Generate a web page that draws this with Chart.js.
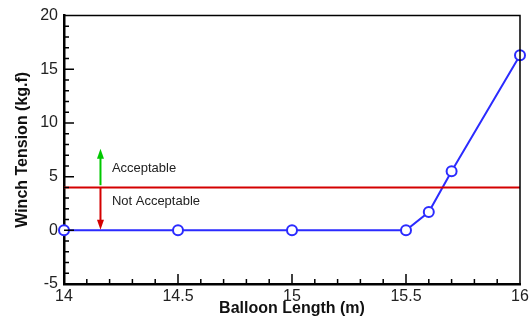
<!DOCTYPE html>
<html>
<head>
<meta charset="utf-8">
<script src="https://cdn.jsdelivr.net/npm/chart.js@4"></script>
<style>
  html, body { margin: 0; padding: 0; background: #fff; }
  canvas { display: block; }
</style>
</head>
<body>
<canvas id="chart" width="532" height="322"></canvas>
<script>
// balloon length (m) vs winch tension (kg.f)
const lengths = [14, 14.5, 15, 15.5, 15.6, 15.7, 16];
const tensions = [0, 0, 0, 0, 1.7, 5.5, 16.3];

// acceptable limit line
const limitX = [14, 16];
const limitY = [4, 4];

// annotation arrows + labels
const arrowX = 14.16;
const upArrow = [4.2, 7.6];
const downArrow = [4, 0.05];
const labelX = 14.21;
const labels = ['Acceptable', 'Not Acceptable'];
const labelY = [5.75, 2.7];

const xRange = [14, 16];
const yRange = [-5, 20];

function drawArrow(ctx, x, y1, y2, color) {
    const dir = y2 < y1 ? 1 : -1;
    ctx.save();
    ctx.strokeStyle = color;
    ctx.fillStyle = color;
    ctx.lineWidth = 2;
    ctx.beginPath();
    ctx.moveTo(x, y1);
    ctx.lineTo(x, y2 + dir * 8);
    ctx.stroke();
    ctx.beginPath();
    ctx.moveTo(x, y2);
    ctx.lineTo(x - 3.5, y2 + dir * 10);
    ctx.lineTo(x + 3.5, y2 + dir * 10);
    ctx.closePath();
    ctx.fill();
    ctx.restore();
}

const extras = {
    id: 'extras',
    afterDatasetsDraw(chart) {
        const ctx = chart.ctx;
        const xs = chart.scales.x, ys = chart.scales.y;
        const a = chart.chartArea;

        // top / right frame
        ctx.save();
        ctx.strokeStyle = '#000';
        ctx.lineWidth = 1.5;
        ctx.beginPath();
        ctx.moveTo(a.left, a.top);
        ctx.lineTo(a.right, a.top);
        ctx.lineTo(a.right, a.bottom);
        ctx.stroke();

        // inner ticks
        ctx.lineWidth = 1.5;
        ctx.beginPath();
        for (let v = yRange[0] + 1; v < yRange[1]; v++) {
            const y = ys.getPixelForValue(v);
            const len = v % 5 === 0 ? 10 : 5;
            ctx.moveTo(a.left, y);
            ctx.lineTo(a.left + len, y);
        }
        for (let i = 1; i < 20; i++) {
            const v = xRange[0] + i * 0.1;
            const x = xs.getPixelForValue(v);
            const len = i % 5 === 0 ? 10 : 5;
            ctx.moveTo(x, a.bottom);
            ctx.lineTo(x, a.bottom - len);
        }
        ctx.stroke();
        ctx.restore();

        // arrows
        const ax = xs.getPixelForValue(arrowX);
        drawArrow(ctx, ax, ys.getPixelForValue(upArrow[0]), ys.getPixelForValue(upArrow[1]), '#00c800');
        drawArrow(ctx, ax, ys.getPixelForValue(downArrow[0]), ys.getPixelForValue(downArrow[1]), '#d40000');

        // labels
        ctx.save();
        ctx.fillStyle = '#222';
        ctx.font = '13px "Liberation Sans", Arial, sans-serif';
        ctx.textBaseline = 'middle';
        labels.forEach((t, i) => {
            ctx.fillText(t, xs.getPixelForValue(labelX), ys.getPixelForValue(labelY[i]));
        });
        ctx.restore();
    }
};

new Chart(document.getElementById('chart'), {
    type: 'line',
    data: {
        datasets: [{
            data: limitX.map((x, i) => ({ x: x, y: limitY[i] })),
            borderColor: '#d40000',
            borderWidth: 2,
            pointRadius: 0,
            clip: false
        }, {
            data: lengths.map((x, i) => ({ x: x, y: tensions[i] })),
            borderColor: '#2b2bff',
            borderWidth: 2,
            pointRadius: 5,
            pointBorderWidth: 2,
            pointBackgroundColor: '#fff',
            pointBorderColor: '#2b2bff',
            clip: false
        }]
    },
    plugins: [extras],
    options: {
        responsive: false,
        animation: false,
        layout: { padding: { left: 0, top: 15, right: 12, bottom: 0 } },
        plugins: { legend: { display: false }, tooltip: { enabled: false } },
        scales: {
            x: {
                type: 'linear',
                min: xRange[0], max: xRange[1],
                afterFit(scale) { scale.height = 38; },
                ticks: {
                    stepSize: 0.5,
                    padding: 3,
                    color: '#222',
                    maxRotation: 0,
                    autoSkip: false,
                    callback: (v) => String(+v.toFixed(1)),
                    font: { family: '"Liberation Sans", Arial, sans-serif', size: 16 }
                },
                grid: { display: true, drawOnChartArea: false, drawTicks: false },
                border: { display: true, width: 2.5, color: '#000' },
                title: {
                    display: true,
                    text: 'Balloon Length (m)',
                    color: '#111',
                    padding: { top: 0, bottom: 4 },
                    font: { family: '"Liberation Sans", Arial, sans-serif', size: 16, weight: 'bold' }
                }
            },
            y: {
                type: 'linear',
                min: yRange[0], max: yRange[1],
                afterFit(scale) { scale.width = 64; },
                ticks: {
                    stepSize: 5,
                    padding: 6,
                    color: '#222',
                    autoSkip: false,
                    font: { family: '"Liberation Sans", Arial, sans-serif', size: 16 }
                },
                grid: { display: true, drawOnChartArea: false, drawTicks: false },
                border: { display: true, width: 2.5, color: '#000' },
                title: {
                    display: true,
                    text: 'Winch Tension (kg.f)',
                    color: '#111',
                    padding: { top: 13, bottom: 0 },
                    font: { family: '"Liberation Sans", Arial, sans-serif', size: 16, weight: 'bold' }
                }
            }
        }
    }
});
</script>
</body>
</html>
